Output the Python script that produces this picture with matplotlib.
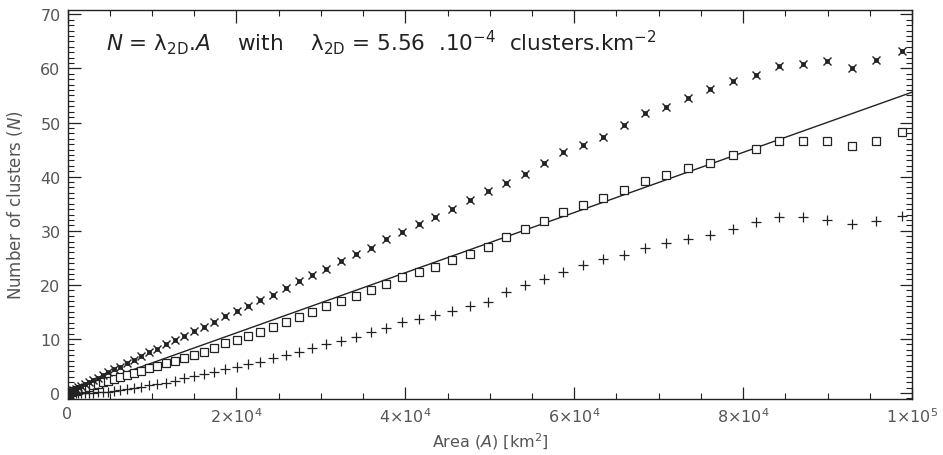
#!/usr/bin/env python3
import matplotlib

matplotlib.use("Agg")

import matplotlib.pyplot as plt
from matplotlib.ticker import FixedLocator, MultipleLocator

# cluster survey areas (km^2)
area = [
    5, 49, 139, 276, 458, 686, 961, 1282, 1648, 2061,
    2530, 3036, 3588, 4186, 4830, 5520, 6257, 7039, 7868, 8742,
    9663, 10630, 11642, 12701, 13806, 14957, 16154, 17398, 18687, 20022,
    21404, 22831, 24305, 25824, 27390, 29001, 30660, 32364, 34114, 35910,
    37752, 39640, 41575, 43555, 45582, 47655, 49774, 51939, 54150, 56406,
    58709, 61058, 63454, 65895, 68382, 70916, 73495, 76121, 78792, 81510,
    84274, 87084, 89940, 92842, 95790, 98784,
]

n_star = [
    0.0, 0.04, 0.11, 0.22, 0.37, 0.55, 0.77, 1.03, 1.32, 1.65,
    2.02, 2.43, 2.87, 3.35, 3.86, 4.36, 4.9, 5.5, 6.1, 6.8,
    7.5, 8.2, 9.0, 9.8, 10.6, 11.4, 12.3, 13.1, 14.2, 15.2,
    16.1, 17.2, 18.2, 19.4, 20.7, 21.9, 23.0, 24.4, 25.7, 26.9,
    28.4, 29.8, 31.2, 32.5, 34.1, 35.7, 37.3, 38.8, 40.5, 42.5,
    44.5, 45.8, 47.4, 49.5, 51.8, 52.8, 54.5, 56.2, 57.7, 58.8,
    60.4, 60.8, 61.4, 60.0, 61.6, 63.3,
]

n_square = [
    0.0, 0.02, 0.07, 0.13, 0.22, 0.32, 0.45, 0.6, 0.77, 0.97,
    1.19, 1.43, 1.69, 1.97, 2.27, 2.59, 2.94, 3.31, 3.7, 4.11,
    4.54, 5.0, 5.47, 5.97, 6.49, 7.0, 7.6, 8.4, 9.2, 9.8,
    10.6, 11.3, 12.3, 13.1, 14.1, 15.0, 16.0, 17.1, 18.0, 19.0,
    20.2, 21.4, 22.3, 23.3, 24.6, 25.7, 27.0, 28.8, 30.4, 31.8,
    33.5, 34.8, 36.1, 37.5, 39.2, 40.3, 41.6, 42.6, 44.0, 45.1,
    46.6, 46.6, 46.6, 45.7, 46.6, 48.2,
]

n_plus = [
    0.0, 0.0, 0.0, 0.0, 0.0, 0.0, 0.0, 0.01, 0.01, 0.02,
    0.04, 0.07, 0.12, 0.19, 0.28, 0.4, 0.55, 0.72, 0.92, 1.15,
    1.4, 1.65, 1.95, 2.3, 2.7, 3.1, 3.5, 3.9, 4.4, 4.8,
    5.4, 5.8, 6.4, 7.0, 7.6, 8.4, 9.0, 9.7, 10.4, 11.3,
    12.1, 13.1, 13.7, 14.4, 15.2, 16.1, 16.9, 18.7, 20.0, 21.1,
    22.4, 23.6, 24.8, 25.5, 26.9, 27.7, 28.5, 29.2, 30.4, 31.6,
    32.6, 32.6, 32.0, 31.2, 31.8, 32.8,
]

lambda_2d = 5.56e-4
fit_area = [0, 1e5]

x_ticks = [0, 2e4, 4e4, 6e4, 8e4, 1e5]
x_ticklabels = ["0", r"2$\times$10$^4$", r"4$\times$10$^4$", r"6$\times$10$^4$",
                r"8$\times$10$^4$", r"1$\times$10$^5$"]
y_ticks = [0, 10, 20, 30, 40, 50, 60, 70]


def main() -> None:
    plt.rcParams["font.family"] = "DejaVu Sans"
    plt.rcParams["mathtext.fontset"] = "dejavusans"

    fig = plt.figure(figsize=(9.43, 4.56), dpi=100)
    ax = fig.add_axes([0.0716, 0.1228, 0.8955, 0.8531])

    ink = "#222222"
    grey = "#555555"

    fit_n = [lambda_2d * a for a in fit_area]
    ax.plot(fit_area, fit_n, color=ink, lw=1.0, zorder=2)

    ax.plot(area, n_square, ls="none", marker="s", ms=6, mfc="white",
            mec=ink, mew=0.9, zorder=3)
    ax.plot(area, n_star, ls="none", marker="s", ms=3.2, mfc=ink,
            mec=ink, mew=0.5, zorder=4)
    ax.plot(area, n_star, ls="none", marker="x", ms=6, mec=ink, mew=1.0,
            zorder=4)
    ax.plot(area, n_plus, ls="none", marker="+", ms=6.5, mec=ink, mew=0.9,
            zorder=4)

    ax.set_xlim(0, 1e5)
    ax.set_ylim(-1.1, 70.8)

    ax.xaxis.set_major_locator(FixedLocator(x_ticks))
    ax.set_xticklabels(x_ticklabels)
    ax.xaxis.set_minor_locator(MultipleLocator(5000))
    ax.yaxis.set_major_locator(FixedLocator(y_ticks))
    ax.yaxis.set_minor_locator(MultipleLocator(1))

    ax.tick_params(which="both", direction="in", top=True, right=True,
                   colors=ink, labelcolor=grey, labelsize=11.5)
    ax.tick_params(which="major", length=9, width=0.9, pad=5)
    ax.tick_params(which="minor", length=4.5, width=0.8)
    for side in ax.spines.values():
        side.set_color(ink)
        side.set_linewidth(1.0)

    ax.set_xlabel(r"Area $(A)$ [km$^2$]", fontsize=11.5, color=grey,
                  labelpad=4)
    ax.set_ylabel(r"Number of clusters $(N)$", fontsize=12, color=grey,
                  labelpad=11)

    ax.text(0.046, 0.918,
            r"$N$ = λ$_{\mathrm{2D}}$.$A$    with    λ$_{\mathrm{2D}}$ = 5.56  .10$^{-4}$  clusters.km$^{-2}$",
            transform=ax.transAxes, fontsize=15.5, color=ink,
            ha="left", va="center")

    fig.savefig("out.png", dpi=100)
    plt.close(fig)


if __name__ == "__main__":
    main()
